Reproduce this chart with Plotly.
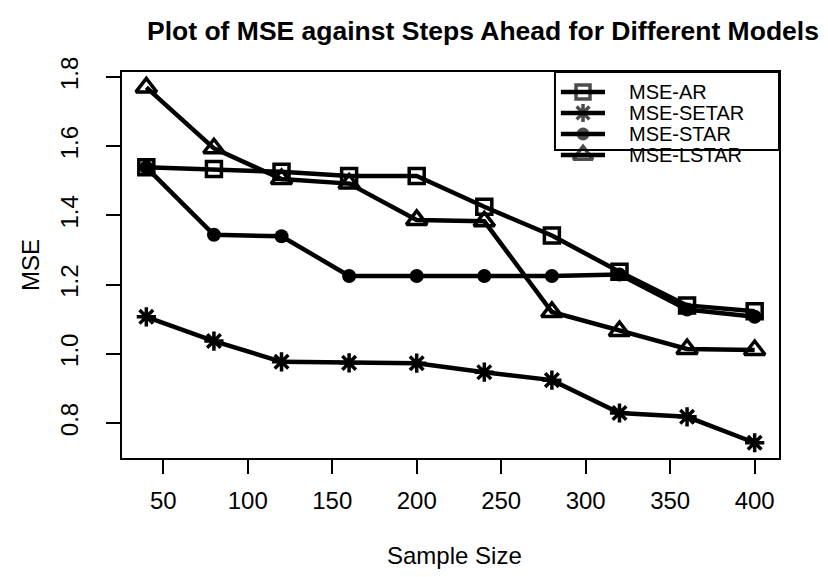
import plotly.graph_objects as go

# Sample sizes and mean squared errors per model
sample_size = [40, 80, 120, 160, 200, 240, 280, 320, 360, 400]
mse_ar = [1.539, 1.534, 1.526, 1.514, 1.514, 1.425, 1.342, 1.237, 1.140, 1.123]
mse_setar = [1.107, 1.037, 0.977, 0.974, 0.973, 0.947, 0.924, 0.829, 0.818, 0.743]
mse_star = [1.539, 1.344, 1.340, 1.225, 1.225, 1.225, 1.225, 1.229, 1.128, 1.107]
mse_lstar = [1.770, 1.594, 1.505, 1.492, 1.387, 1.383, 1.121, 1.066, 1.014, 1.011]

series_names = ["MSE-AR", "MSE-SETAR", "MSE-STAR", "MSE-LSTAR"]
x_ticks = [50, 100, 150, 200, 250, 300, 350, 400]
y_ticks = [0.8, 1.0, 1.2, 1.4, 1.6, 1.8]
y_tick_text = ["0.8", "1.0", "1.2", "1.4", "1.6", "1.8"]

FONT = "Liberation Sans, Arial, sans-serif"
BLACK = "#000000"

symbols = {
    "MSE-AR": dict(symbol="square-open", size=15, line=dict(width=3.5, color=BLACK)),
    "MSE-SETAR": dict(symbol="asterisk-open", size=16, line=dict(width=3.5, color=BLACK)),
    "MSE-STAR": dict(symbol="circle", size=14, line=dict(width=0, color=BLACK)),
    "MSE-LSTAR": dict(symbol="triangle-up-open", size=18, line=dict(width=3.5, color=BLACK)),
}

fig = go.Figure()
for name, ys in zip(series_names, [mse_ar, mse_setar, mse_star, mse_lstar]):
    fig.add_trace(go.Scatter(
        x=sample_size, y=ys, mode="lines+markers", name=name,
        line=dict(color=BLACK, width=4.5),
        marker=dict(color=BLACK, **symbols[name]),
        showlegend=False,
    ))

# Legend drawn inside the top-right corner of the plotting region
leg_rows = [0.9482, 0.8938, 0.8394, 0.7850]
leg_x0, leg_xm, leg_x1, leg_tx = 0.668, 0.7017, 0.7352, 0.768
for name, ry in zip(series_names, leg_rows):
    m = dict(symbols[name])
    fig.add_trace(go.Scatter(
        x=[leg_x0, leg_xm, leg_x1], y=[ry, ry, ry], mode="lines+markers",
        xaxis="x2", yaxis="y2", showlegend=False, hoverinfo="skip",
        line=dict(color=BLACK, width=4.5),
        marker=dict(color=BLACK, symbol=m["symbol"], size=[0, m["size"] - 1, 0], line=m["line"]),
    ))
    fig.add_annotation(
        xref="x2", yref="y2", x=leg_tx, y=ry, text=name, showarrow=False,
        xanchor="left", yanchor="middle", font=dict(family=FONT, size=20, color=BLACK),
    )
fig.add_shape(type="rect", xref="x2", yref="y2", x0=0.659, x1=1.0, y0=0.798, y1=1.0,
              line=dict(color=BLACK, width=2), fillcolor="rgba(0,0,0,0)")

fig.update_layout(
    width=828, height=577, autosize=False,
    margin=dict(l=122, r=49, t=72, b=119),
    paper_bgcolor="white", plot_bgcolor="white",
    font=dict(family=FONT, size=24, color=BLACK),
    title=dict(
        text="<b>Plot of MSE against Steps Ahead for Different Models</b>",
        xref="container", yref="container", x=0.5833, y=0.946,
        xanchor="center", yanchor="middle",
        font=dict(family=FONT, size=26.5, color=BLACK),
    ),
    xaxis=dict(
        range=[25.6, 414.4], tickvals=x_ticks, ticks="outside", ticklen=14, tickwidth=1.5,
        tickcolor=BLACK, showline=True, linecolor=BLACK, linewidth=2, mirror=True,
        showgrid=False, zeroline=False, ticklabelstandoff=6,
        tickfont=dict(family=FONT, size=24),
    ),
    yaxis=dict(
        range=[0.699, 1.8145], tickvals=y_ticks, ticktext=y_tick_text, tickangle=-90,
        ticks="outside", ticklen=14, tickwidth=1.5, tickcolor=BLACK,
        showline=True, linecolor=BLACK, linewidth=2, mirror=True,
        showgrid=False, zeroline=False, ticklabelstandoff=18,
        tickfont=dict(family=FONT, size=24),
    ),
    xaxis2=dict(domain=[0, 1], range=[0, 1], overlaying="x", visible=False, fixedrange=True),
    yaxis2=dict(domain=[0, 1], range=[0, 1], overlaying="y", visible=False, fixedrange=True),
)

fig.add_annotation(xref="paper", yref="paper", x=0.5068, y=-0.2513, text="Sample Size",
                   showarrow=False, xanchor="center", yanchor="middle",
                   font=dict(family=FONT, size=24, color=BLACK))
fig.add_annotation(xref="paper", yref="paper", x=-0.140, y=0.5, text="MSE", textangle=-90,
                   showarrow=False, xanchor="center", yanchor="middle",
                   font=dict(family=FONT, size=24, color=BLACK))

fig.write_html("out.html")
